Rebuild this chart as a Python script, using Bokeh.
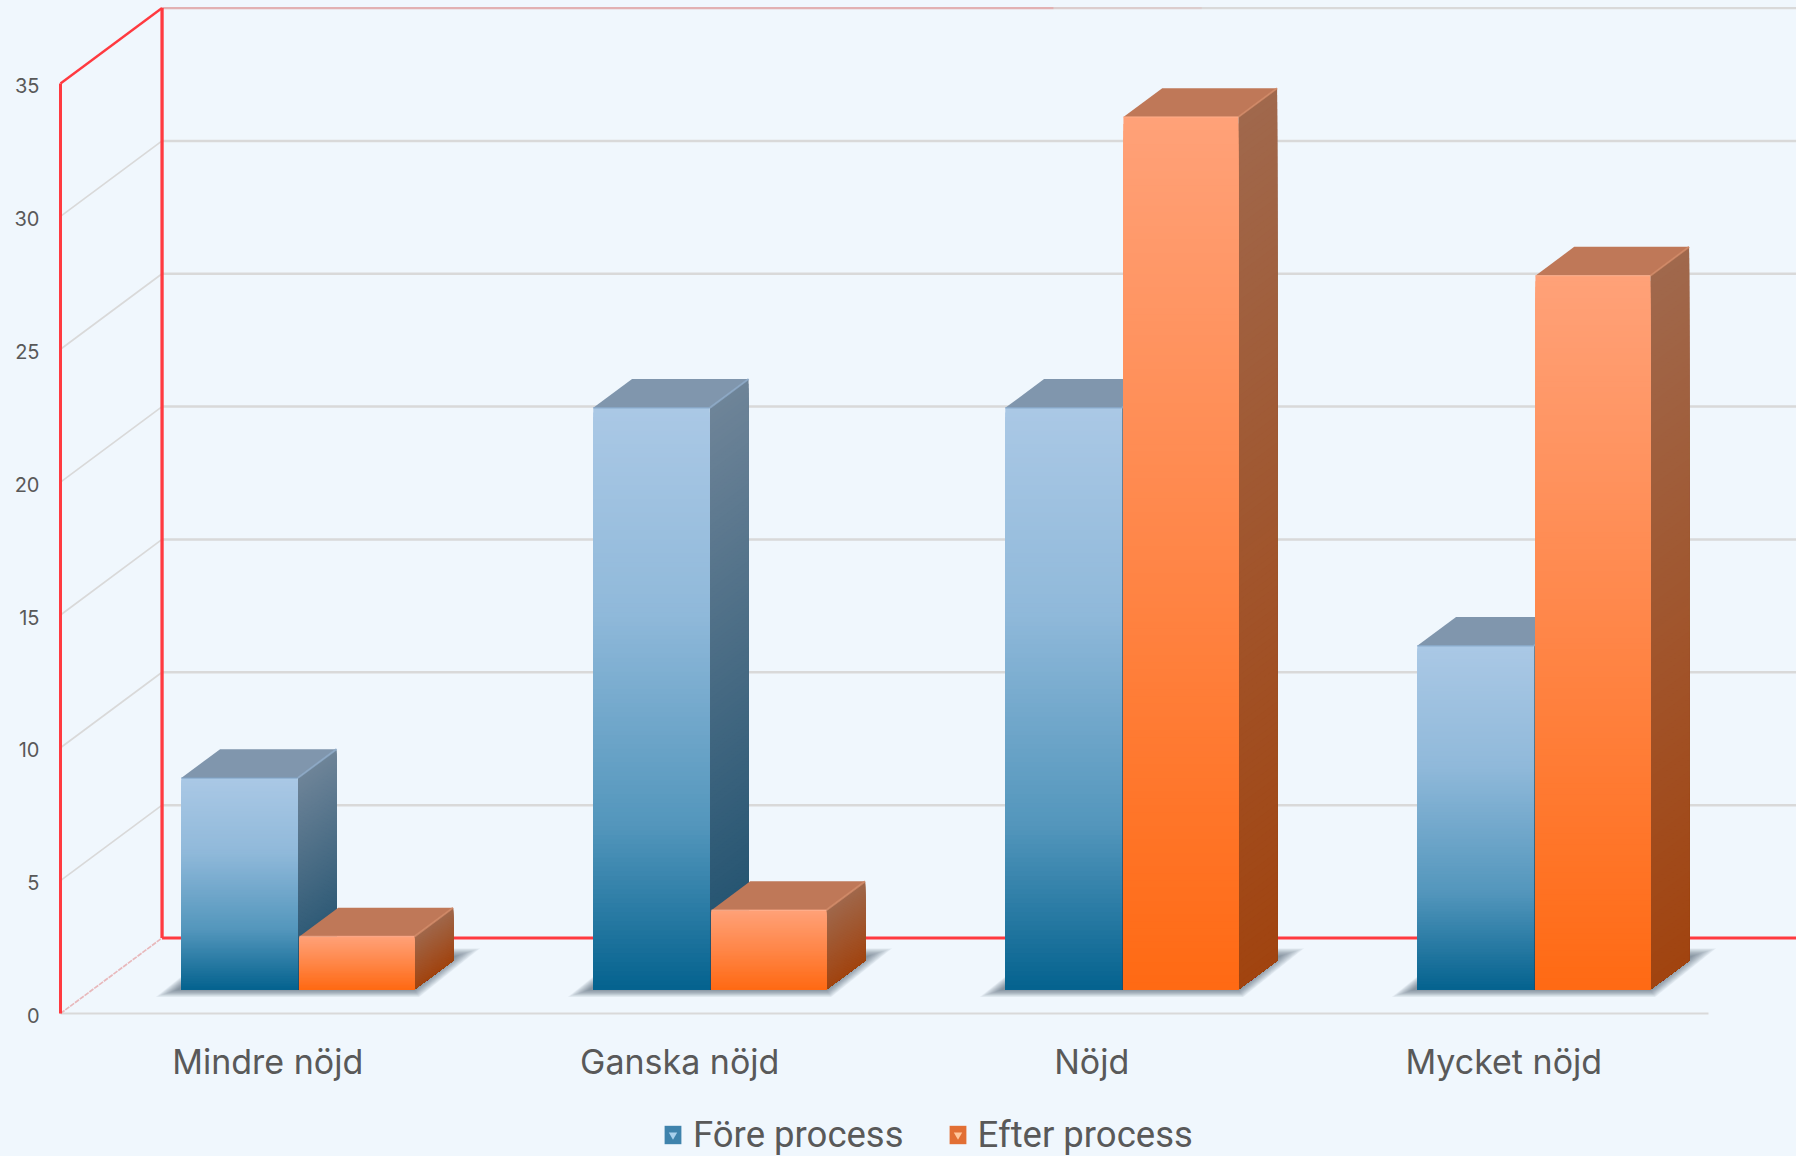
from bokeh.embed import file_html
from bokeh.resources import INLINE
from bokeh.plotting import figure
from bokeh.models import (ColumnDataSource, FixedTicker, Legend, LegendItem,
                          LinearAxis, Range1d)

# ---- data ----
categories = ["Mindre nöjd", "Ganska nöjd", "Nöjd", "Mycket nöjd"]
fore_process = [8, 22, 22, 13]
efter_process = [2, 3, 33, 27]
series_names = ["Före process", "Efter process"]
y_ticks = [0, 5, 10, 15, 20, 25, 30, 35]

BG = "#F0F7FD"
PX = 412.0     # pixels per category
PY = 26.57     # pixels per value unit
W, H = 1796, 1156
LEFT = 50
X0 = -(60 - LEFT) / PX
Y0 = -(H - 1013) / PY
XMAX = X0 + (W - LEFT) / PX
YMAX = Y0 + H / PY

# 3-D projection of the chart box, in data units
DX, DY = 0.2465, 2.842          # offset of the back wall
D0, D1 = 0.318, 0.700           # depth span occupied by the bars
BAR_W = 0.2828
BAR_SCALE = 0.995


def lerp(stops, t):
    for (a, ca), (b, cb) in zip(stops, stops[1:]):
        if t <= b:
            k = (t - a) / (b - a)
            return "#%02x%02x%02x" % tuple(
                round(int(ca[i:i + 2], 16) * (1 - k) + int(cb[i:i + 2], 16) * k)
                for i in (1, 3, 5))
    return stops[-1][1]


STYLES = [
    dict(front=[(0, "#AAC8E5"), (0.35, "#90B9DA"), (0.72, "#5396BC"), (1, "#05638F")],
         side=[(0, "#6E8498"), (1, "#1D4F6D")], top="#8096AD", edge="#8DAAC8", rim="#7FA2C4"),
    dict(front=[(0, "#FFA178"), (0.5, "#FF8648"), (1, "#FF6A14")],
         side=[(0, "#A0684C"), (1, "#A14410")], top="#BF7858", edge="#D28A66", rim="#FFAE8A"),
]

p = figure(width=W, height=H, output_backend="svg", toolbar_location=None,
           x_range=Range1d(X0, XMAX), y_range=Range1d(Y0, YMAX),
           min_border_left=LEFT, min_border_right=0, min_border_top=0,
           min_border_bottom=0, x_axis_location=None, y_axis_location=None)
p.grid.visible = False
p.background_fill_color = BG
p.border_fill_color = BG
p.outline_line_color = None

# ---- walls ----
GRID = "#D9D9D9"
RED = "#FF3A40"
for v in y_ticks[1:-1]:
    p.line([DX, XMAX], [v + DY, v + DY], line_color=GRID, line_width=2.5)
    p.line([0, DX], [v, v + DY], line_color=GRID, line_width=1.7)
top = y_ticks[-1]
p.line([DX, XMAX], [top + DY, top + DY], line_color=GRID, line_width=2.2)
p.line([DX, 2.41], [top + DY, top + DY], line_color=RED, line_width=2.2, line_alpha=0.25)
p.line([2.41, 2.77], [top + DY, top + DY], line_color=RED, line_width=2.2, line_alpha=0.08)
p.line([0, len(categories)], [0, 0], line_color=GRID, line_width=2.2)
p.line([0, DX], [0, DY], line_color="#E8B9BC", line_width=1.7, line_dash="5 1")
p.line([0, 0], [0, top], line_color=RED, line_width=3)
p.line([DX, DX], [DY, top + DY], line_color=RED, line_width=3.3)
p.line([0, DX], [top, top + DY], line_color=RED, line_width=2.4)
p.line([DX, XMAX], [DY, DY], line_color=RED, line_width=3)

# ---- bars ----
base = D0 * DY
shift = D0 * DX - 1.0 / PX
ddx, ddy = (D1 - D0) * DX, (D1 - D0) * DY
N = 128
LAYERS = 14


def shadow(x0, x1):
    for k in range(LAYERS):
        g = k / (LAYERS - 1)
        lx = x0 - 0.062 + 0.052 * g
        rx = x1 + 0.012 - 0.012 * g
        tx = x1 + 0.160 - 0.060 * g
        by = base - 0.28 + 0.26 * g
        ty = base + 1.55 - 0.30 * g
        p.patch([lx, rx, tx, lx + (tx - rx)], [by, by, ty, ty],
                fill_color="#3F4B52", fill_alpha=0.055, line_color=None)


def bar(i, s, value):
    st = STYLES[s]
    x0 = i + 0.5 + shift + (s - 1) * BAR_W + (0.004 if s else 0)
    x1 = x0 + BAR_W - (0.004 if s else 0)
    y1 = base + value * BAR_SCALE
    # stacked bands, each one running down to the foot so no seam shows
    f = dict(left=[], right=[], top=[], bottom=[], color=[])
    sx, sy, sc = [], [], []
    for k in range(N):
        t = k / (N - 1)
        yt = y1 + (base - y1) * k / N
        f["left"].append(x0); f["right"].append(x1)
        f["top"].append(yt); f["bottom"].append(base)
        f["color"].append(lerp(st["front"], t))
        sx.append([x1, x1 + ddx, x1 + ddx, x1])
        sy.append([yt, yt + ddy, base + ddy, base])
        sc.append(lerp(st["side"], t))
    p.patches(sx, sy, fill_color=sc, line_color=None)
    p.patch([x0, x1, x1 + ddx, x0 + ddx], [y1, y1, y1 + ddy, y1 + ddy],
            fill_color=st["top"], line_color=None)
    p.line([x1, x1 + ddx], [y1, y1 + ddy], line_color=st["edge"], line_width=2, line_alpha=0.8)
    p.quad(left="left", right="right", top="top", bottom="bottom", color="color",
           line_color=None, source=ColumnDataSource(f))
    p.line([x0, x1], [y1, y1], line_color=st["rim"], line_width=1.5, line_alpha=0.7)


for i in range(len(categories)):
    left = i + 0.5 + shift - BAR_W
    shadow(left, left + 2 * BAR_W)
for i, v in enumerate(fore_process):
    bar(i, 0, v)
for i, v in enumerate(efter_process):
    bar(i, 1, v)

# ---- axes ----
# labels sit a hair below their gridline in the reference
label_y = [v - 0.08 for v in y_ticks]
y_axis = LinearAxis(ticker=FixedTicker(ticks=label_y), axis_line_color=None,
                    major_tick_line_color=None, minor_tick_line_color=None,
                    major_label_overrides={a: str(v) for a, v in zip(label_y, y_ticks)},
                    major_label_standoff=5, major_label_text_color="#595959",
                    major_label_text_font="Inter", major_label_text_font_size="20px")
p.add_layout(y_axis, "left")

label_x = [i + 0.503 for i in range(len(categories))]
x_axis = LinearAxis(ticker=FixedTicker(ticks=label_x), axis_line_color=None, fixed_location=0,
                    major_tick_line_color=None, minor_tick_line_color=None,
                    major_label_overrides=dict(zip(label_x, categories)),
                    major_label_standoff=21, major_label_text_color="#595959",
                    major_label_text_font="Inter", major_label_text_font_size="34px")
p.add_layout(x_axis, "below")

# ---- legend: representative glyphs kept off the visible range ----
ghost = dict(left=[-9], right=[-8], top=[-5], bottom=[-6])
items = []
for name, base_col, tri_col in zip(series_names, ("#3F83AC", "#E26F34"), ("#A9D0EC", "#FFC79C")):
    r1 = p.quad(**ghost, fill_color=base_col, line_color=None)
    r2 = p.scatter([-9], [-5], marker="inverted_triangle", size=10,
                   fill_color=tri_col, line_color=None)
    items.append(LegendItem(label=name, renderers=[r1, r2]))
legend = Legend(items=items, orientation="horizontal", location=(662 - LEFT, 0),
                glyph_width=21, glyph_height=23, label_text_font="Roboto",
                label_text_font_size="36.5px", label_text_color="#595959",
                label_standoff=10, spacing=43, padding=0, margin=0,
                background_fill_alpha=0, border_line_color=None)
p.add_layout(legend, "center")

PAGE = """{% block preamble %}<style>html,body{margin:0;background:#F0F7FD;overflow:hidden}</style>{% endblock %}"""
open("out.html", "w").write(file_html(p, INLINE, template=PAGE))
